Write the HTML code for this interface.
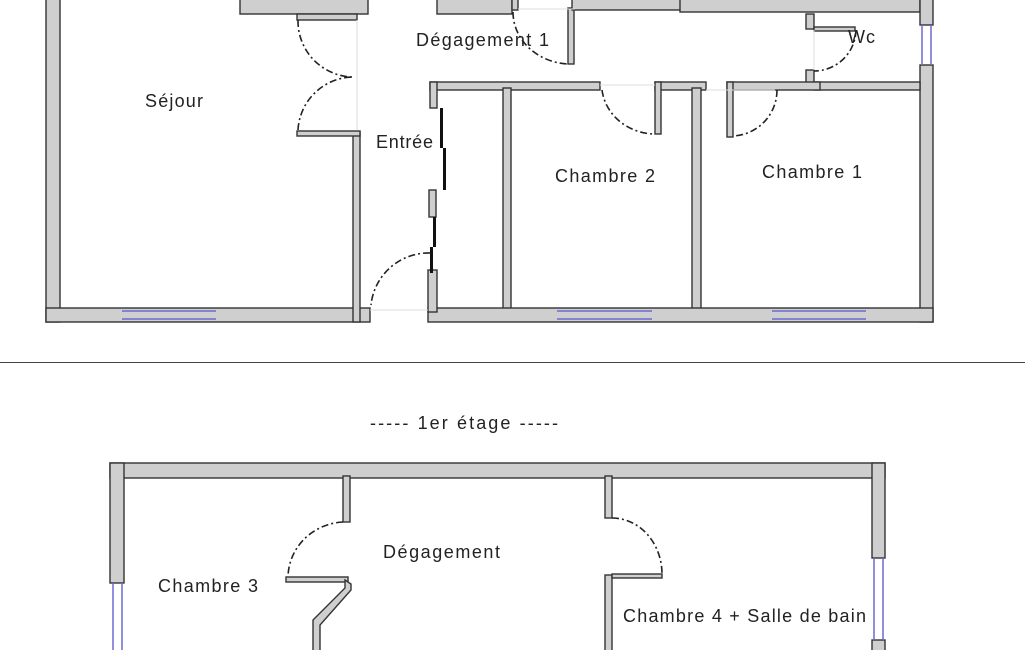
<!DOCTYPE html>
<html><head><meta charset="utf-8"><style>
html,body{margin:0;padding:0;background:#fff;width:1025px;height:650px;overflow:hidden}
svg{display:block}
.w{fill:#cfcfcf;stroke:#333;stroke-width:1.4}
.d{fill:none;stroke:#222;stroke-width:1.6;stroke-dasharray:7 3 2 3}
.win{stroke:#6a6ad0;stroke-width:1.5}
.t{font-family:"Liberation Sans",sans-serif;font-size:18px;fill:#222}
.th{stroke:#ddd;stroke-width:1}
</style></head><body>
<svg width="1025" height="650" viewBox="0 0 1025 650">
<rect class="w" x="46" y="-2" width="14" height="324"/>
<rect class="w" x="46" y="308" width="324" height="14"/>
<line class="win" x1="122" y1="311" x2="216" y2="311"/>
<line class="win" x1="122" y1="319" x2="216" y2="319"/>
<rect class="w" x="353" y="132" width="7" height="190"/>
<rect class="w" x="297" y="131" width="63" height="5"/>
<rect class="w" x="240" y="-4" width="128" height="18"/>
<rect class="w" x="297" y="14" width="60" height="6"/>
<rect class="w" x="437" y="-4" width="75" height="18"/>
<rect class="w" x="512" y="-4" width="6" height="14"/>
<rect class="w" x="568" y="8" width="6" height="56"/>
<rect class="w" x="572" y="-4" width="110" height="14"/>
<rect class="w" x="680" y="-4" width="240" height="16"/>
<line class="th" x1="518" y1="9" x2="575" y2="9"/>
<rect class="w" x="920" y="-2" width="13" height="27"/>
<rect class="w" x="920" y="65" width="13" height="257"/>
<line class="win" x1="922" y1="25" x2="922" y2="65"/>
<line class="win" x1="931" y1="25" x2="931" y2="65"/>
<rect class="w" x="806" y="14" width="8" height="15"/>
<rect class="w" x="814" y="27" width="41" height="4"/>
<rect class="w" x="806" y="70" width="8" height="15"/>
<rect class="w" x="814" y="82" width="106" height="8"/>
<line class="th" x1="814" y1="30" x2="814" y2="70"/>
<path class="d" d="M856 30 A42 42 0 0 1 814 71"/>
<rect class="w" x="430" y="82" width="170" height="8"/>
<rect class="w" x="430" y="82" width="7" height="26"/>
<rect class="w" x="655" y="82" width="51" height="8"/>
<rect class="w" x="655" y="82" width="6" height="52"/>
<rect class="w" x="727" y="82" width="93" height="8"/>
<rect class="w" x="727" y="82" width="6" height="55"/>
<line class="th" x1="600" y1="85" x2="655" y2="85"/>
<line class="th" x1="706" y1="90" x2="775" y2="90"/>
<path class="d" d="M602 90 A54 50 0 0 0 655 134"/>
<path class="d" d="M777 90 A46 46 0 0 1 733 136"/>
<rect class="w" x="503" y="88" width="8" height="230"/>
<rect class="w" x="692" y="88" width="9" height="230"/>
<rect class="w" x="428" y="308" width="505" height="14"/>
<line class="win" x1="557" y1="311" x2="652" y2="311"/>
<line class="win" x1="557" y1="319" x2="652" y2="319"/>
<line class="win" x1="772" y1="311" x2="866" y2="311"/>
<line class="win" x1="772" y1="319" x2="866" y2="319"/>
<rect class="w" x="428" y="270" width="9" height="42"/>
<rect class="w" x="429" y="190" width="7" height="27"/>
<rect fill="#111" x="433" y="217" width="3" height="30"/>
<rect fill="#111" x="430" y="247" width="3" height="26"/>
<rect fill="#111" x="440" y="108" width="3" height="40"/>
<rect fill="#111" x="443" y="148" width="3" height="42"/>
<path class="d" d="M430 253 A58 58 0 0 0 371 305"/>
<path class="d" d="M298 20 A56 56 0 0 0 352 77"/>
<path class="d" d="M298 130 A56 56 0 0 1 352 77"/>
<line class="th" x1="357" y1="20" x2="357" y2="130"/>
<line class="th" x1="370" y1="310" x2="428" y2="310"/>
<path class="d" d="M513 12 A58 52 0 0 0 568 64"/>
<text class="t" x="145" y="107" textLength="58">Séjour</text>
<text class="t" x="416" y="46" textLength="133">Dégagement 1</text>
<text class="t" x="376" y="148" textLength="57">Entrée</text>
<text class="t" x="555" y="182" textLength="100">Chambre 2</text>
<text class="t" x="762" y="178" textLength="100">Chambre 1</text>
<text class="t" x="848" y="43" textLength="27">Wc</text>
<line x1="0" y1="362.5" x2="1025" y2="362.5" stroke="#444" stroke-width="1"/>
<text class="t" x="370" y="429" textLength="188">----- 1er étage -----</text>
<rect class="w" x="110" y="463" width="775" height="15"/>
<rect class="w" x="110" y="463" width="14" height="120"/>
<line class="win" x1="113" y1="583" x2="113" y2="650"/>
<line class="win" x1="122" y1="583" x2="122" y2="650"/>
<rect class="w" x="872" y="463" width="13" height="95"/>
<rect class="w" x="872" y="640" width="13" height="15"/>
<line class="win" x1="874" y1="558" x2="874" y2="640"/>
<line class="win" x1="883" y1="558" x2="883" y2="640"/>
<rect class="w" x="343" y="476" width="7" height="46"/>
<rect class="w" x="286" y="577" width="62" height="5"/>
<path class="w" d="M345 580 L351 584 L351 590 L320 625 L320 655 L313 655 L313 620 L345 588 Z"/>
<path class="d" d="M343 522 A58 56 0 0 0 288 577"/>
<rect class="w" x="605" y="476" width="7" height="42"/>
<rect class="w" x="605" y="575" width="7" height="80"/>
<rect class="w" x="612" y="574" width="50" height="4"/>
<path class="d" d="M612 518 A50 56 0 0 1 662 574"/>
<text class="t" x="383" y="558" textLength="117">Dégagement</text>
<text class="t" x="158" y="592" textLength="100">Chambre 3</text>
<text class="t" x="623" y="622" textLength="243">Chambre 4 + Salle de bain</text>
</svg>
</body></html>
